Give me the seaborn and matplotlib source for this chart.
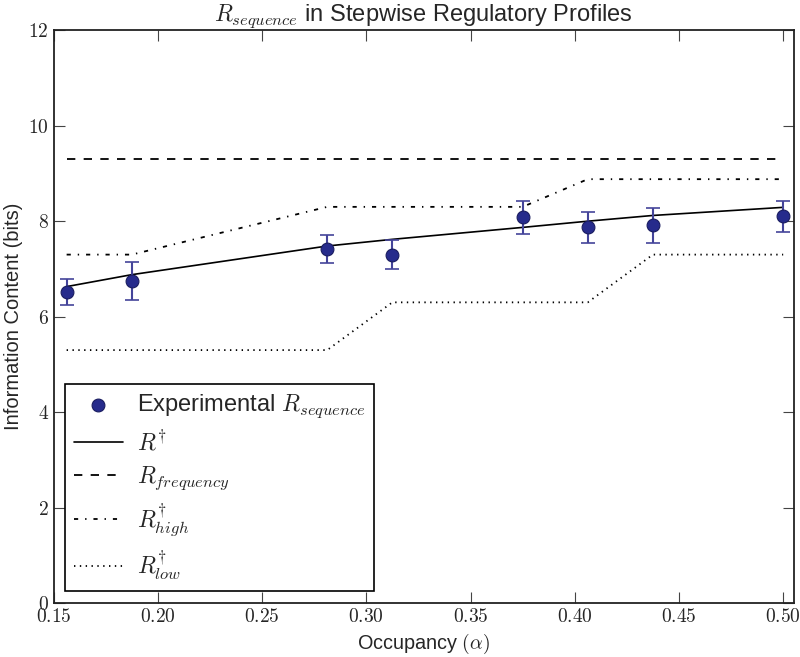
import matplotlib
matplotlib.use("Agg")
import matplotlib.pyplot as plt
import seaborn as sns
import pandas as pd

# occupancy values (x) and measured information content
occupancy = [0.15625, 0.1875, 0.28125, 0.3125, 0.375, 0.40625, 0.4375, 0.5]
r_sequence = [6.51, 6.74, 7.42, 7.30, 8.08, 7.87, 7.91, 8.10]
r_err = [0.27, 0.40, 0.30, 0.31, 0.35, 0.32, 0.37, 0.32]

r_dagger = [6.63, 6.88, 7.48, 7.62, 7.87, 8.00, 8.12, 8.29]
r_frequency = [9.30, 9.30, 9.30, 9.30, 9.30, 9.30, 9.30, 9.30]
r_high = [7.30, 7.30, 8.30, 8.30, 8.30, 8.88, 8.88, 8.88]
r_low = [5.30, 5.30, 5.30, 6.30, 6.30, 6.30, 7.30, 7.30]

xticks = [0.15, 0.20, 0.25, 0.30, 0.35, 0.40, 0.45, 0.50]
yticks = [0, 2, 4, 6, 8, 10, 12]

sns.set_style("ticks")
plt.rcParams['font.family'] = ['Liberation Sans', 'DejaVu Sans']
plt.rcParams['mathtext.fontset'] = 'cm'
plt.rcParams['xtick.direction'] = 'in'
plt.rcParams['ytick.direction'] = 'in'
plt.rcParams['xtick.top'] = True
plt.rcParams['ytick.right'] = True
plt.rcParams['lines.scale_dashes'] = False

df = pd.DataFrame({'occ': occupancy, 'seq': r_sequence, 'dag': r_dagger,
                   'freq': r_frequency, 'high': r_high, 'low': r_low})

fig = plt.figure(figsize=(8, 6.57), dpi=100)
ax = fig.add_axes([0.067, 0.082, 0.925, 0.872])

ax.errorbar(occupancy, r_sequence, yerr=r_err, fmt='none', ecolor='#44449a',
            elinewidth=1.5, capsize=5, capthick=1.2, zorder=3)
sns.scatterplot(data=df, x='occ', y='seq', ax=ax, s=85, color='#262b8c',
                edgecolor='#1a1d60', linewidth=0.8, zorder=4,
                label=r'Experimental $R_{sequence}$')
sns.lineplot(data=df, x='occ', y='dag', ax=ax, color='black', lw=1.2,
             label=r'$R^{\dagger}$')
sns.lineplot(data=df, x='occ', y='freq', ax=ax, color='black', lw=1.3,
             linestyle=(0, (6, 6)), label=r'$R_{frequency}$')
sns.lineplot(data=df, x='occ', y='high', ax=ax, color='black', lw=1.3,
             linestyle=(0, (3, 5, 1, 5)), label=r'$R^{\dagger}_{high}$')
sns.lineplot(data=df, x='occ', y='low', ax=ax, color='black', lw=1.3,
             linestyle=(0, (1, 3.2)), label=r'$R^{\dagger}_{low}$')

ax.set_xlim(0.15, 0.505)
ax.set_ylim(0, 12)
ax.set_xticks(xticks)
ax.set_xticklabels([f'${t:.2f}$' for t in xticks], fontsize=14)
ax.set_yticks(yticks)
ax.set_yticklabels([f'${t}$' for t in yticks], fontsize=14)
ax.tick_params(length=8, width=0.8, color='#444444')
for sp in ax.spines.values():
    sp.set_linewidth(1.3)
    sp.set_color('#222222')

ax.set_xlabel(r'Occupancy $(\alpha)$', fontsize=14.3)
ax.set_ylabel('Information Content (bits)', fontsize=14.5)
ax.set_title(r'$R_{sequence}$ in Stepwise Regulatory Profiles', fontsize=17, pad=5)

leg = ax.legend(loc='lower left', fontsize=17, scatterpoints=1, fancybox=False,
                framealpha=1, edgecolor='black', borderpad=0.35, labelspacing=0.4,
                handlelength=2.1, handletextpad=0.6, borderaxespad=0.5)
leg.get_frame().set_linewidth(1.2)

plt.savefig('out.png', dpi=100)
